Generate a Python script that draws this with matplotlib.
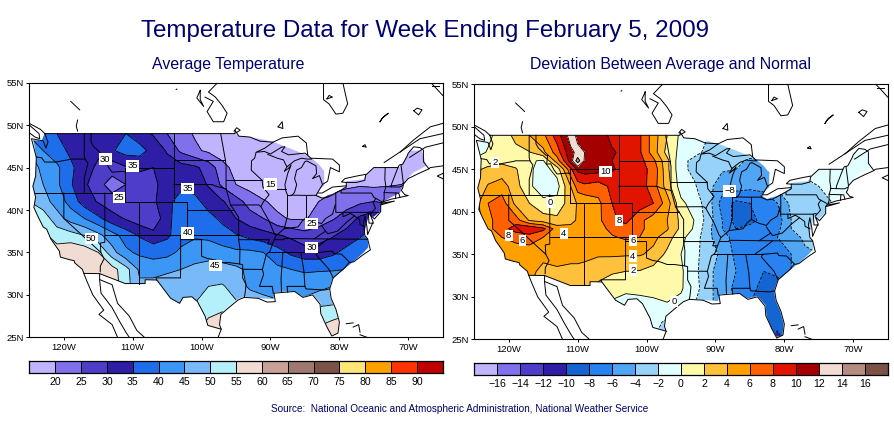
import matplotlib
matplotlib.use("Agg")
import matplotlib.pyplot as plt
import numpy as np
from matplotlib.patches import Polygon
from matplotlib.colors import ListedColormap, BoundaryNorm

W, H = 895, 423
plt.rcParams['font.family'] = ['Liberation Sans', 'DejaVu Sans']
NAVY = '#000070'

title = "Temperature Data for Week Ending February 5, 2009"
left_title = "Average Temperature"
right_title = "Deviation Between Average and Normal"
source = "Source:  National Oceanic and Atmospheric Administration, National Weather Service"

lon_ticks = [-120, -110, -100, -90, -80, -70]
lat_ticks = [25, 30, 35, 40, 45, 50, 55]

# Average temperature, degrees F
temp_levels = [20, 25, 30, 35, 40, 45, 50, 55, 60, 65, 70, 75, 80, 85, 90]
temp_colors = ['#c0b4ff', '#8070eb', '#4d3dc9', '#2d1ea5', '#1e6eeb', '#3c96f5', '#78b9fa', '#b4f0fa',
               '#f0dcd2', '#c8a096', '#a0786e', '#7d5246', '#ffe678', '#ffa000', '#ff3200', '#c00000']
temp_lons = [-125, -123, -121, -119, -117, -115, -113, -111, -109, -107, -105, -103, -101, -99, -97,
             -95, -93, -91, -89, -87, -85, -83, -81, -79, -77, -75, -73, -71, -69, -67]
temp_lats = [25, 27, 29, 31, 33, 35, 37, 39, 41, 43, 45, 47, 49]
temp_grid = [
 [60,60,60,60,60,60,60,60,56,52,50,50,53,58,60,58,57,56,56,56,56,57,60,60,60,60,60,60,60,60],
 [60,60,60,60,60,60,60,56,50,48,47,49,52,55.5,57,56,55,54,53,53,53,54,55,57,58,58,58,58,58,58],
 [60,60,60,60,60,60,60,54,50,48,46,48,50,52,53,50.5,49,47,46,46,47,49,49.5,50,50,50,50,50,50,50],
 [60,60,60,60,60,60,58,52,46,47,48,48,49,50,50.5,48,44,43,42,42,42,43.5,45,46,46,46,46,46,46,46],
 [60,60,60,60,60,60,57,52,44,43,44,45,46.5,47.5,47,46,44,43,41,40,39.5,39.5,39.5,40,41,41,41,41,41,41],
 [57,57,57,59,58,55,47,41,39,38,38.5,41,42,42.5,42,41,41,40,37,34,32,32,34,36.5,38,39,39,39,39,39],
 [56,56,53,52,50,46.5,42,38,34.5,32,34,38,39.5,39,37,35.5,33.5,32,30.5,29,27,28,29.5,32,34.5,37,37,37,37,37],
 [54,53,47,43,40,36,32,29.5,27,25.5,34,37,37.5,36.5,34,30,27,25,21,19.5,19.5,22,24.5,27,31,33,33,33,33,33],
 [50,47,43,38,32.5,29.5,27,26,27,29,34,36.5,36.5,33,30.5,27,23,20.5,18.5,18,18,20,22,23,24,25,24,22,21,21],
 [48,45,41,35.5,31,26.5,23,25,27,29,32,34,33,29.5,24,20,18,16,15,15,15,16,18,19,19.5,19,19.5,20,21,21],
 [47,44,41,36,32,29,27,29.5,31,30,32,32,31,28,22,18,16,15,15,15,15,16,17,17,17,17,18,18,19,19],
 [45,40,37,34,32,31,34.5,37,37,33,29.5,24,21,19,17,15.5,15,15,15,15,15,15,16,16,16,17,17,18,18,18],
 [39,37,35,33,32,32,34.5,35,32,29.5,25,22,19.5,17,16,15,15,15,15,15,15,15,15,15,15,16,16,17,17,17],
]

# Deviation between average and normal, degrees F
dev_levels = [-16, -14, -12, -10, -8, -6, -4, -2, 0, 2, 4, 6, 8, 10, 12, 14, 16]
dev_colors = ['#c0b4ff', '#8070eb', '#4d3dc9', '#2d1ea5', '#1464d2', '#2882f0', '#50a5f5', '#96d2fa',
              '#e1ffff', '#fffaaa', '#ffc03c', '#ffa000', '#ff6000', '#e11400', '#a50000', '#f0dcd2',
              '#b48c80', '#7d5246']
dev_lons = [-125, -123, -121, -119, -117, -115, -113, -111, -110, -109, -107, -105, -103, -101, -99,
            -97, -95, -93, -91, -89, -87, -85, -83, -81, -79, -77, -75, -73, -71, -69, -67]
dev_lats = [25, 27, 29, 31, 33, 35, 37, 38, 39, 41, 43, 45, 46, 47, 49]
dev_grid = [
 [4,4,4,4,4,4,3,2,1,0,0,-1,-1,-1.5,-2,-3,-3,-3,-4,-5,-6,-8,-9.5,-10.5,-9,-8,-8,-8,-8,-8,-8],
 [4,4,4,4,4,4,3,2,1,0,0,-1,-1,-1,-1.2,-2.5,-3,-3,-4,-5,-6,-8,-9.5,-9.5,-8,-8,-8,-8,-8,-8,-8],
 [4,4,4,4,4,4,3,2,1,0,-0.3,-0.5,-1.5,-1,-0.8,-0.2,-0.5,-2,-3.5,-5,-6,-8,-9,-9,-8,-7,-7,-7,-7,-7,-7],
 [4,4,4,4,4,4,3.5,3,3,2.5,1.8,1,0.7,0.7,1,0.9,0.2,-1.2,-3.5,-5,-6.5,-7.5,-8.5,-9,-8,-7,-7,-7,-7,-7,-7],
 [4,4,4.5,5,4.5,3.5,3.8,3.6,3.6,3.5,2.3,2.2,2,1.9,1.2,0.9,0.3,-1.5,-3.5,-5,-6,-7.5,-8,-7.5,-6,-5,-5,-5,-5,-5,-5],
 [4,4,4.5,5,4.8,4.5,4.5,4.5,4.5,4.4,4.3,4.3,4.2,4.2,3.5,1.5,0,-1.5,-3,-4.5,-6.5,-7,-7,-7,-6,-4.5,-4,-4,-4,-4,-4],
 [4,5,6,6.5,7,6,4.5,4.5,4.5,4.5,4.7,5.8,6.3,6,4.5,3,0.5,-1,-3.5,-5.5,-6.5,-7,-7,-6,-5,-3.5,-3,-3,-3,-3,-3],
 [4,5.5,7,9,9.8,8.5,5,4.5,4.5,4.7,5.3,6.5,7.3,6.5,5,4.2,1.5,-0.3,-3.5,-6,-8,-7.5,-7.5,-6.5,-4,-2.5,-2,-2,-2,-2,-2],
 [3,5,8,7,3.8,3,2.5,3.5,4.2,4.5,5.5,7.7,8.5,6.5,5,4,1.5,-0.1,-3,-6,-9,-8.5,-7.5,-7,-4,-2.5,-2,-2,-2,-2,-2],
 [3,6,7,3.5,2,0.5,0.7,3,4.2,4.5,5.5,8,9.5,9,8,5,0.5,-1,-3,-7,-8.5,-8,-7,-6,-3.5,-3,-2.5,-2,-2,-1,-1],
 [2,4.2,5,2.8,0.3,-1,-0.8,4,7,7.5,7,8.5,9.5,9,7,3,-1,-1.8,-3.5,-5,-5,-5.5,-5.5,-3.5,-3,-2.5,-2,-1.5,-1.5,-1,-1],
 [1.5,2.5,2.8,2.2,0.3,-0.8,0.8,7.5,10.5,11,10.8,10.2,9.3,8.6,7.5,2.5,-1.5,-2.5,-3.5,-3.8,-4,-5,-4.5,-3,-2.5,-1.5,-1.5,-1.5,-1.5,-1,-1],
 [0.5,1,1.5,1,0.2,-0.2,5,11,15,11.8,11,10,9.3,8.7,6.5,2.5,-1.5,-2.5,-3,-3.5,-3.7,-4.2,-4,-3,-2.5,-2,-1.5,-1.5,-1.3,-1,-1],
 [-1,0.2,1,1.5,1.9,3.5,7,11.5,12.5,12,11,10.2,9.5,8.3,5,1.3,-0.6,-1.5,-2.5,-3,-3.5,-3.5,-3.5,-3,-2,-2,-2,-1.5,-1.3,-1,-1],
 [-1,-0.5,1,2.5,4,5.5,9,13,11.5,11,11,9.5,9,8.3,5,2,-0.5,-1,-2,-3,-3,-3,-3,-3,-2,-2,-1.5,-1.5,-1,-1,-1],
]

# Contour labels: value, lon, lat
temp_labels = [("30", -114.0, 46.0), ("35", -110.0, 45.2), ("25", -112.0, 41.45), ("35", -102.0, 42.5),
               ("15", -90.0, 43.05), ("25", -84.0, 38.4), ("30", -84.0, 35.6), ("40", -102.0, 37.3),
               ("50", -116.0, 36.65), ("45", -98.0, 33.45)]
dev_labels = [("2", -122.0, 45.8), ("0", -114.0, 41.1), ("10", -106.0, 44.7), ("\u22128", -87.9, 42.45),
              ("8", -104.0, 38.95), ("8", -120.0, 37.25), ("6", -118.0, 36.6), ("4", -112.0, 37.45),
              ("6", -102.0, 36.6), ("4", -102.0, 34.8), ("2", -102.0, 33.15), ("0", -96.0, 29.45)]

# Geography, (lon, lat)
fill_mask = [(-124.4,48.2),(-123.2,48.2),(-122.8,49),(-95.2,49),(-94.5,48.7),(-93,48.6),(-91,48.3),(-89.2,47.9),
 (-87,47.2),(-84.3,46.3),(-83,45.4),(-82.2,44.6),(-82.2,42.9),(-82.9,42.4),(-83.3,41.9),(-82.5,41.5),(-81,41.9),
 (-80,42.3),(-79,42.9),(-79,43.4),(-76.5,43.6),(-76,44.3),(-75,45),(-71.3,45),(-70.3,46.2),(-69.8,47),(-68,47),
 (-67.4,45.2),(-69.3,44.4),(-70.7,43.1),(-71.2,42),(-72.5,41.5),(-73.5,41),(-74,40.6),(-74,39.9),(-75,39.2),
 (-75.7,39.4),(-76.2,38),(-76.4,37),(-75.9,36.6),(-75.8,35.6),(-76.6,34.9),(-78,33.9),(-79.4,33),(-81,31.9),
 (-81.5,30.7),(-81.3,29.6),(-80.6,28.3),(-80.1,26.8),(-80.3,25.4),(-81.1,25.3),(-81.8,26.2),(-82.6,27.8),
 (-82.7,29),(-83.9,30.1),(-85.3,29.8),(-86.5,30.4),(-88,30.4),(-89.4,30.3),(-89.6,29.5),(-91.5,29.6),(-93.8,29.8),
 (-94.8,29.5),(-96,28.7),(-97.2,27.8),(-97.5,26.5),(-97.2,26),(-99.1,26.4),(-99.5,27.5),(-100.6,29.2),
 (-101.4,29.77),(-102.7,29.7),(-103.2,29),(-104.5,29.6),(-106.5,31.75),(-108.2,31.78),(-108.2,31.33),
 (-111.07,31.33),(-114.8,32.5),(-117.1,32.53),(-117.3,33),(-118.4,33.75),(-118.5,34.03),(-119.2,34.15),
 (-120.5,34.45),(-120.65,35.15),(-121.9,36.6),(-122.5,37.75),(-123,38),(-123.8,39.3),(-124.35,40.3),(-124.1,41.5),
 (-124.5,42.8),(-124.1,44),(-124,46.2)]

us_outline = [(-122.75,49),(-95.15,49),(-95.15,49.4),(-94.6,48.7),(-93,48.6),(-91.5,48.1),(-89.6,48),(-90.8,47.3),
 (-92.1,46.8),(-90.9,46.9),(-90,46.6),(-88.4,47.4),(-87.9,47.45),(-88.4,46.9),(-87.4,46.5),(-85,46.7),(-84.6,46.45),
 (-84,46),(-84.7,46),(-85.5,46.1),(-86.5,45.8),(-87.6,45.1),(-88,44.55),(-87.4,44.9),(-87,45.3),(-87.5,44.3),
 (-87.9,43),(-87.8,42.3),(-87.5,41.7),(-86.9,41.7),(-86.5,42.1),(-86.2,43),(-86.5,43.7),(-86.2,44.7),(-85.5,45),
 (-85,45.7),(-84.7,45.78),(-83.4,45.2),(-83.3,44.3),(-83.9,43.7),(-82.9,44.05),(-82.45,43),(-82.9,42.4),(-83.2,42),
 (-83.4,41.7),(-82.5,41.4),(-81.7,41.5),(-80.5,42),(-79,42.7),(-79,43.25),(-77.5,43.25),(-76.3,43.5),(-76.2,44.1),
 (-75,45),(-71.5,45),(-71.3,45.3),(-70.8,45.4),(-70.2,46.3),(-70,46.7),(-69.2,47.45),(-68.3,47.35),(-67.8,47.05),
 (-67.8,45.7),(-67,44.85),(-68.5,44.3),(-70,43.7),(-70.7,43.05),(-70.8,42.6),(-71,42.3),(-70.5,41.8),(-70,41.7),
 (-71.2,41.5),(-72.5,41.27),(-73.7,40.95),(-74,40.6),(-74,39.8),(-74.9,38.95),(-75.5,39.4),(-75.1,38.6),(-75.9,37.1),
 (-76,38),(-76.3,39.3),(-76.5,38.5),(-76.3,37),(-75.9,36.6),(-75.5,35.3),(-76.6,34.7),(-77.9,33.9),(-78.6,33.8),
 (-79.2,33.2),(-80.9,32),(-81.4,30.7),(-81.2,29.6),(-80.5,28.3),(-80,26.8),(-80.2,25.5),(-81.1,25.15),(-81.8,26.2),
 (-82.7,27.8),(-82.8,28.9),(-83.9,30),(-85.3,29.7),(-86.5,30.4),(-88,30.3),(-89.5,30.2),(-89.3,29.2),(-90.5,29.15),
 (-91.8,29.6),(-93.8,29.7),(-94.7,29.4),(-95.9,28.6),(-97.2,27.7),(-97.4,26.5),(-97.15,25.95),(-99.1,26.4),(-99.5,27.5),
 (-100.6,29.2),(-101.4,29.77),(-102.7,29.7),(-103.2,29),(-104.5,29.6),(-106.5,31.75),(-108.2,31.78),(-108.2,31.33),
 (-111.07,31.33),(-114.8,32.5),(-117.1,32.53),(-117.3,33),(-118.4,33.75),(-118.5,34.03),(-119.2,34.15),(-120.5,34.45),
 (-120.65,35.15),(-121.9,36.6),(-122.5,37.75),(-123,38),(-123.8,39.3),(-124.35,40.3),(-124.1,41.5),(-124.5,42.8),
 (-124.1,44),(-124,46.2),(-124.7,48.4),(-123,48.15),(-122.6,47.3),(-122.3,48),(-122.75,49)]

state_lines = [
 [(-124,46.25),(-123.2,46.15),(-122.8,45.65),(-121.2,45.65),(-119.3,45.93),(-119,46),(-116.92,46)],
 [(-117.03,49),(-117.04,46.4),(-116.92,46),(-116.5,45.5),(-116.9,44.2),(-117.03,43.8),(-117.03,42)],
 [(-124.2,42),(-111.05,42)],
 [(-116.05,49),(-116.05,48),(-115.7,47.5),(-114.6,46.65),(-114.35,46.65),(-114.5,45.6),(-113.9,45.65),(-113.45,44.95),(-113,44.45),(-111.5,44.55),(-111.05,44.47)],
 [(-111.05,45),(-104.05,45)], [(-111.05,45),(-111.05,41),(-104.05,41)], [(-104.05,49),(-104.05,41)],
 [(-104.05,45.94),(-96.56,45.94)], [(-104.05,43),(-98.5,43),(-97.9,42.8),(-96.45,42.5)],
 [(-97.23,49),(-96.56,45.94),(-96.45,45.3),(-96.45,42.5)], [(-96.45,43.5),(-91.22,43.5)],
 [(-96.45,42.5),(-96.1,41.5),(-95.8,40.6),(-95.3,40)], [(-102.05,40),(-95.3,40)],
 [(-104.05,41),(-102.05,41),(-102.05,37)], [(-114.05,37),(-94.62,37)],
 [(-94.62,36.5),(-90.15,36.5),(-90.4,36),(-89.7,36)],
 [(-103,37),(-103.04,36.5),(-103.06,32),(-106.62,32),(-106.5,31.75)],
 [(-103.04,36.5),(-100,36.5),(-100,34.56),(-99.2,34.3),(-98,34.1),(-97,33.8),(-96,33.8),(-94.48,33.64)],
 [(-109.05,41),(-109.05,31.33)], [(-114.05,42),(-114.05,36.2),(-114.7,36.1),(-114.63,35)],
 [(-120,42),(-120,39),(-114.63,35),(-114.15,34.26),(-114.7,33.4),(-114.72,32.72)],
 [(-94.62,36.5),(-94.43,35.4),(-94.48,33.64),(-94.04,33.55),(-94.04,31.99),(-93.55,31.2),(-93.7,30.1),(-93.8,29.7)],
 [(-94.04,33.02),(-91.17,33)], [(-91.17,33),(-91,32.4),(-91.6,31),(-89.75,31),(-89.6,30.2)],
 [(-91.17,33),(-90.6,34.8),(-90.1,35.1),(-89.7,36),(-89.2,37),(-89.5,37.3),(-90.2,38.7),(-91.4,40.4),(-91,41),(-90.2,41.8),(-91.1,42.7),(-91.22,43.5),(-92.8,44.7),(-92.75,45.8),(-92.3,46.1),(-92.1,46.75)],
 [(-95.77,40.58),(-91.7,40.6),(-91.4,40.4)], [(-95.3,40),(-94.62,39.1),(-94.62,36.5)],
 [(-90.64,42.5),(-87.8,42.5)], [(-90.4,46.55),(-89,46.1),(-88.1,45.9),(-87.8,45.35),(-87.6,45.1)],
 [(-87.53,41.7),(-87.53,39.3),(-88,37.8)],
 [(-89.15,37),(-88,37.8),(-87,37.9),(-86,38),(-85.4,38.7),(-84.8,39.1),(-83.7,38.65),(-82.6,38.4),(-82,39),(-81,39.5),(-80.6,40.6)],
 [(-84.8,41.7),(-84.8,39.1)], [(-87,41.75),(-84.8,41.72),(-83.45,41.73)], [(-80.52,42),(-80.52,39.72),(-75.8,39.72),(-75.4,39.8)],
 [(-79.76,42.27),(-79.76,42),(-75.35,42),(-75,41.5),(-74.7,41.36),(-73.9,41)], [(-74.7,41.36),(-75.1,40.9),(-74.75,40.2),(-75.5,39.5)],
 [(-75.8,39.72),(-75.7,38.45),(-75.05,38.45)], [(-76.3,38),(-77,38.3),(-77.05,38.85),(-77.8,39.3),(-78.4,39.6),(-79.48,39.2),(-79.48,39.72)],
 [(-77.8,39.3),(-78.9,38.6),(-80.3,37.5),(-81.7,37.2),(-82,37.5),(-82.6,38.2)], [(-82,37.5),(-83.67,36.6)],
 [(-75.9,36.55),(-81.7,36.59),(-83.67,36.6),(-88,36.65),(-88.07,36.5),(-89.4,36.5)], [(-90.3,35),(-84.3,35),(-83.1,35)],
 [(-81.7,36.59),(-82.6,36),(-84.3,35)], [(-83.1,35),(-81,35.15),(-80.8,34.85),(-79.7,34.8),(-78.55,33.86)],
 [(-83.1,35),(-83.35,34.7),(-81.5,33),(-80.9,32)], [(-85.6,34.98),(-85.15,32.8),(-85,31)], [(-88.2,35),(-88.47,31.9),(-88.4,30.3)],
 [(-87.5,30.3),(-87.6,31),(-85,31),(-84.86,30.7),(-82.2,30.57),(-81.45,30.7)],
 [(-73.35,45),(-73.4,43.6),(-73.25,42.75),(-73.5,42.05),(-73.5,41.3),(-73.65,41)], [(-71.5,45),(-72.45,43),(-72.45,42.73)],
 [(-73.5,42.05),(-71.4,42),(-71.2,41.5)], [(-73.25,42.75),(-71.3,42.7),(-70.8,42.87)], [(-71.8,42),(-71.85,41.35)],
 [(-71.05,45.3),(-70.7,43.1)],
]

other_lines = [
 [(-74,40.6),(-72,41.05),(-73.8,40.8)],
 [(-84.6,46.5),(-84.8,47.9),(-86,48.7),(-88.3,48.5),(-89.6,48)],
 [(-83.1,42),(-82.5,42),(-81,42.7),(-79,42.85)],
 [(-79,43.25),(-79.7,43.3),(-79.2,43.7),(-77.5,44),(-76.2,44.2)],
 [(-82.45,43),(-81.7,43.4),(-81.3,45),(-80,44.5),(-80,45.3),(-81,46),(-84,46.1)],
 [(-82.3,55),(-82.3,53),(-81.5,52.5),(-80.5,51.3),(-79.5,51.4),(-78.8,52.5),(-79.5,55)],
 [(-81.8,53.1),(-81,53.3),(-81.5,53.5),(-81.8,53.1)],
 [(-97.8,54.9),(-99,53.9),(-98,53.3),(-97.1,52.4),(-96.3,51.4),(-96.8,50.4),(-98.3,50.4),(-99.2,51.6),(-98.3,52.8),(-99.5,53.3)],
 [(-100.2,54.1),(-100.7,53.2),(-99.7,52.2),(-100.2,53),(-100.2,54.1)],
 [(-119,52.8),(-117.7,51.8)], [(-118,50.6),(-118.2,49.9),(-118,49.3)], [(-103.7,54.2),(-103.6,54.25)],
 [(-95.3,49.3),(-94.9,49.7),(-94.4,49.4),(-95,49.1)],
 [(-88.9,49.8),(-88.3,50.4),(-88.2,49.6),(-88.9,49.8)],
 [(-76.6,47.5),(-76.3,47.7),(-76.1,47.4),(-76.6,47.5)],
 [(-74.1,50.4),(-73.6,51),(-72.9,51.4),(-73.8,50.8),(-74.1,50.4)],
 [(-69.2,51.7),(-68.5,51.2),(-68,51.8),(-68.7,52),(-69.2,51.7)],
 [(-71.2,46.8),(-69.3,48.2),(-66.8,49.8),(-65,50.2)],
 [(-73.5,45.6),(-70.7,47.1),(-68.3,48.4),(-65,49)],
 [(-69.8,46.2),(-67.5,47.4),(-65,47.9)],
 [(-65,45.2),(-66.8,45),(-67,44.85)], [(-65,44.3),(-65.8,44),(-65,43.7)],
 [(-66.6,54.9),(-65.9,54.3),(-65,53.5)], [(-66.5,54.6),(-65.5,54.6)],
 [(-122.75,49),(-123.4,49.5),(-125,50.2)], [(-125,49.1),(-124.2,48.6),(-123.5,48.4),(-123.6,49),(-125,50)],
 [(-117.1,32.53),(-116.7,31.7),(-115.8,30),(-114.2,28.2),(-114.9,27.7),(-113,26.5),(-112.2,25)],
 [(-114.8,32.5),(-114.8,31.7),(-114.6,30.2),(-113,28.5),(-112,27),(-111,25.6),(-110.5,25)],
 [(-114.8,31.8),(-113,31.2),(-112.2,29),(-110.5,27.5),(-109.4,25.8),(-108.3,25)],
 [(-97.15,25.95),(-97.6,25)],
 [(-79,26.6),(-78,26.7)], [(-78,26.2),(-77.2,26.5),(-77,25.6)], [(-77,25.3),(-76,25)],
]

AX_BOXES = [(29.4, 82.7, 442.7, 337.3), (474.3, 84.3, 887.7, 339.3)]
CB_BOXES = [(29.4, 360.7, 442.7, 373.3), (474.3, 362.7, 887.7, 375.3)]


def axes_px(fig, box):
    x0, y0, x1, y1 = box
    return fig.add_axes([x0 / W, 1 - y1 / H, (x1 - x0) / W, (y1 - y0) / H])


def draw_map(fig, box, lons, lats, grid, levels, colors, labels):
    ax = axes_px(fig, box)
    data = np.array(grid, dtype=float)
    clip = Polygon(fill_mask, closed=True, transform=ax.transData, fc='none', ec='none')
    ax.add_patch(clip)
    cf = ax.contourf(lons, lats, data, levels=levels, colors=colors, extend='both', antialiased=False)
    cf.set_clip_path(clip)
    cl = ax.contour(lons, lats, data, levels=levels, colors='k', linewidths=0.6)
    cl.set_clip_path(clip)
    for line in state_lines + other_lines + [us_outline]:
        xs, ys = zip(*line)
        ax.plot(xs, ys, color='k', lw=0.7, solid_joinstyle='round', zorder=3)
    for text, lo, la in labels:
        ax.text(lo, la, text, fontsize=6.8, ha='center', va='center', color='k', zorder=5,
                bbox=dict(fc='white', ec='none', pad=0.8))
    ax.set_xlim(-125, -65)
    ax.set_ylim(25, 55)
    ax.set_xticks(lon_ticks, [f"{-v}W" for v in lon_ticks])
    ax.set_yticks(lat_ticks, [f"{v}N" for v in lat_ticks])
    ax.tick_params(length=2.5, width=0.7, labelsize=6.8, pad=1.5)
    for s in ax.spines.values():
        s.set_linewidth(0.8)


def draw_bar(fig, box, levels, colors):
    cax = axes_px(fig, box)
    n = len(colors)
    edges = np.arange(n + 1)
    cmap = ListedColormap(colors)
    cax.pcolormesh(edges, [0, 1], [np.arange(n)], cmap=cmap, norm=BoundaryNorm(np.arange(n + 1) - 0.5, n),
                   edgecolors='k', linewidth=0.7)
    cax.set_xlim(0, n)
    cax.set_ylim(0, 1)
    cax.set_yticks([])
    cax.set_xticks(edges[1:-1], [str(v).replace('-', '\u2212') for v in levels])
    cax.tick_params(length=0, labelsize=7.6, pad=3)
    for s in cax.spines.values():
        s.set_linewidth(0.9)


fig = plt.figure(figsize=(W / 100, H / 100), dpi=100, facecolor='white')
draw_map(fig, AX_BOXES[0], temp_lons, temp_lats, temp_grid, temp_levels, temp_colors, temp_labels)
draw_map(fig, AX_BOXES[1], dev_lons, dev_lats, dev_grid, dev_levels, dev_colors, dev_labels)
draw_bar(fig, CB_BOXES[0], temp_levels, temp_colors)
draw_bar(fig, CB_BOXES[1], dev_levels, dev_colors)

fig.text(425 / W, 1 - 31 / H, title, fontsize=17.35, color=NAVY, ha='center', va='center')
fig.text(228 / W, 1 - 64 / H, left_title, fontsize=11.45, color=NAVY, ha='center', va='center')
fig.text(671 / W, 1 - 64.5 / H, right_title, fontsize=11.45, color=NAVY, ha='center', va='center')
fig.text(459.5 / W, 1 - 408.5 / H, source, fontsize=7.2, color=NAVY, ha='center', va='center')
fig.savefig('out.png', dpi=100, facecolor='white')
